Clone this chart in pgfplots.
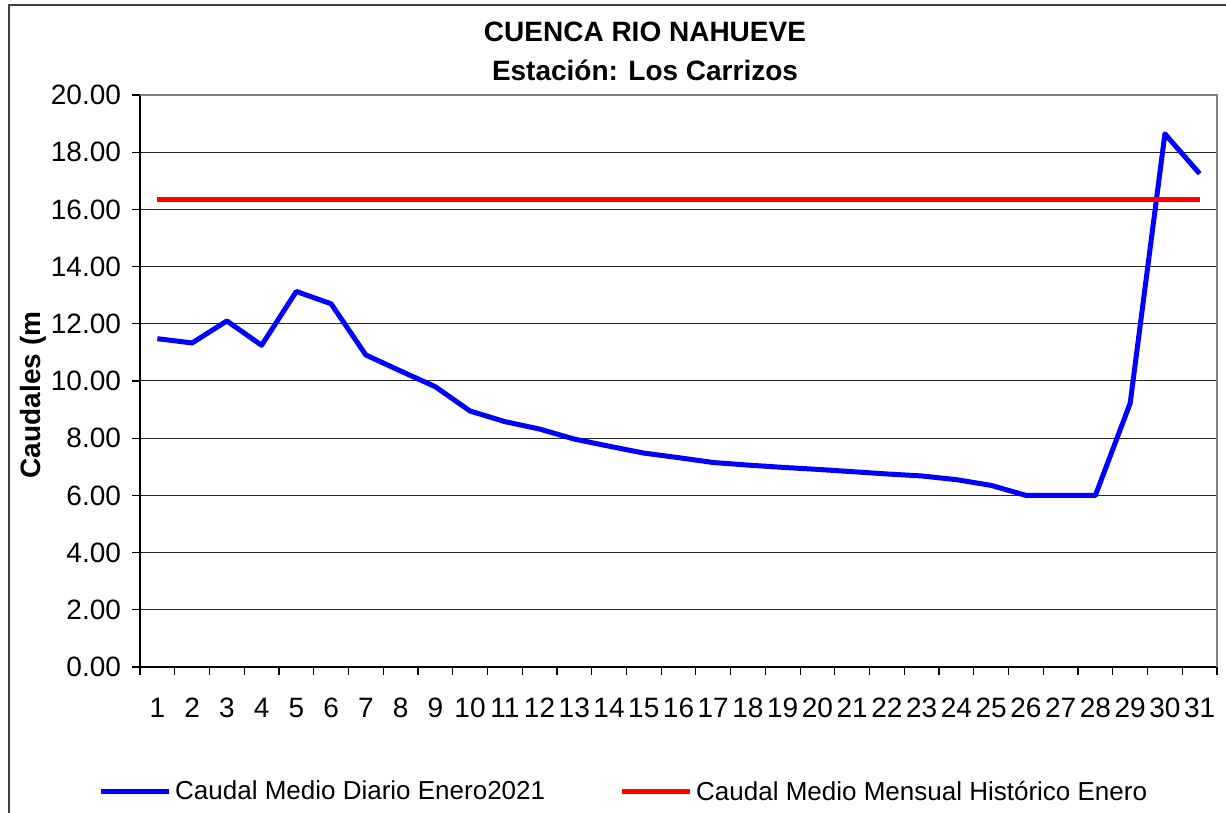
\documentclass[border=0pt]{standalone}
\usepackage{pgfplots}
\pgfplotsset{compat=1.18}
\usepackage{fontspec}
\setmainfont{Liberation Sans}
\begin{document}
\begin{tikzpicture}[x=1pt,y=1pt]
\path[use as bounding box] (0,0) rectangle (613,406.5);
\draw[black!75,line width=0.8pt] (4.5,-5) -- (4.5,404) -- (620,404);
\node[font=\fontsize{14}{16}\selectfont\bfseries] at (322.5,390.5) {CUENCA RIO NAHUEVE};
\node[font=\fontsize{14}{16}\selectfont\bfseries] at (322.5,371.5) {Estación: Los Carrizos};
\node[font=\fontsize{14}{16}\selectfont\bfseries,rotate=90] at (16.5,209) {Caudales (m};
\begin{axis}[
  at={(70pt,73pt)}, anchor=south west,
  scale only axis, width=538.5pt, height=286pt,
  xmin=0.5, xmax=31.5, ymin=0, ymax=20,
  axis lines=left, axis line style={-,black,line width=0.8pt},
  tick align=outside,
  xtick={1,...,31}, major x tick style={draw=none},
  minor xtick={0.5,1.5,...,31.5}, minor tick length=4pt,
  minor x tick style={black,line width=0.6pt},
  ytick={0,2,...,20}, major tick length=4pt,
  major y tick style={black,line width=0.6pt},
  ymajorgrids, grid style={black!85,line width=0.5pt},
  tick label style={font=\fontsize{14}{16}\selectfont},
  /pgf/number format/assume math mode=true,
  yticklabel style={/pgf/number format/fixed,/pgf/number format/fixed zerofill,/pgf/number format/precision=2, xshift=-2pt},
  xticklabel style={yshift=-8pt},
  legend style={at={(0.45,-0.2185)}, anchor=center, draw=none, fill=none,
    legend columns=2, font=\fontsize{13}{15}\selectfont,
    /tikz/every even column/.append style={column sep=35pt}},
  legend image code/.code={\draw[#1,line width=2.5pt] (0pt,0pt) -- (34pt,0pt);},
  clip=false,
]
\addplot[blue,line width=2.5pt,line join=round] coordinates {
(1,11.48) (2,11.33) (3,12.10) (4,11.25) (5,13.13) (6,12.70) (7,10.91) (8,10.35)
(9,9.80) (10,8.95) (11,8.58) (12,8.32) (13,7.97) (14,7.72) (15,7.48) (16,7.32)
(17,7.15) (18,7.06) (19,6.98) (20,6.91) (21,6.83) (22,6.75) (23,6.68) (24,6.55)
(25,6.35) (26,6.00) (27,6.00) (28,6.00) (29,9.22) (30,18.64) (31,17.25)};
\addlegendentry{Caudal Medio Diario Enero2021}
\addplot[red,line width=2.5pt] coordinates {
(1,16.33) (2,16.33) (3,16.33) (4,16.33) (5,16.33) (6,16.33) (7,16.33) (8,16.33)
(9,16.33) (10,16.33) (11,16.33) (12,16.33) (13,16.33) (14,16.33) (15,16.33) (16,16.33)
(17,16.33) (18,16.33) (19,16.33) (20,16.33) (21,16.33) (22,16.33) (23,16.33) (24,16.33)
(25,16.33) (26,16.33) (27,16.33) (28,16.33) (29,16.33) (30,16.33) (31,16.33)};
\addlegendentry{Caudal Medio Mensual Histórico Enero}
\draw[gray,line width=1pt] (rel axis cs:0,1) -- (rel axis cs:1,1) -- (rel axis cs:1,0);
\end{axis}
\end{tikzpicture}
\end{document}
